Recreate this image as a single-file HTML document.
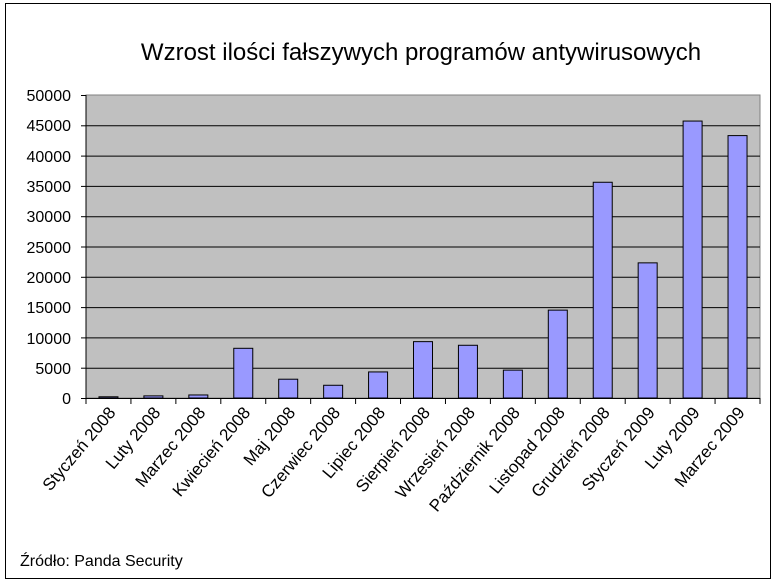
<!DOCTYPE html>
<html><head><meta charset="utf-8"><style>
body{margin:0;background:#fff;}
svg{display:block;font-family:"Liberation Sans",Arial,sans-serif;}
</style></head><body>
<svg width="776" height="583" viewBox="0 0 776 583">
<rect x="0" y="0" width="776" height="583" fill="#fff"/>
<rect x="5.5" y="3.5" width="765" height="575" fill="none" stroke="#000" stroke-width="1"/>
<text x="421" y="60" font-size="24" text-anchor="middle" fill="#000">Wzrost ilości fałszywych programów antywirusowych</text>
<rect x="86" y="95" width="674" height="303" fill="#c0c0c0" stroke="#808080" stroke-width="1"/>
<g stroke="#000" stroke-width="1">
<line x1="86" x2="760" y1="125.8" y2="125.8"/>
<line x1="86" x2="760" y1="156.1" y2="156.1"/>
<line x1="86" x2="760" y1="186.4" y2="186.4"/>
<line x1="86" x2="760" y1="216.7" y2="216.7"/>
<line x1="86" x2="760" y1="247" y2="247"/>
<line x1="86" x2="760" y1="277.3" y2="277.3"/>
<line x1="86" x2="760" y1="307.6" y2="307.6"/>
<line x1="86" x2="760" y1="337.9" y2="337.9"/>
<line x1="86" x2="760" y1="368.2" y2="368.2"/>
<line x1="86" x2="86" y1="95" y2="398"/>
<line x1="81" x2="760" y1="398.5" y2="398.5"/>
</g>
<g stroke="#000" stroke-width="1">
<line x1="81" x2="86" y1="95.5" y2="95.5"/><line x1="81" x2="86" y1="125.8" y2="125.8"/><line x1="81" x2="86" y1="156.1" y2="156.1"/><line x1="81" x2="86" y1="186.4" y2="186.4"/><line x1="81" x2="86" y1="216.7" y2="216.7"/><line x1="81" x2="86" y1="247" y2="247"/><line x1="81" x2="86" y1="277.3" y2="277.3"/><line x1="81" x2="86" y1="307.6" y2="307.6"/><line x1="81" x2="86" y1="337.9" y2="337.9"/><line x1="81" x2="86" y1="368.2" y2="368.2"/>
</g>
<g font-size="16" text-anchor="end" fill="#000">
<text x="71" y="101">50000</text><text x="71" y="131">45000</text><text x="71" y="162">40000</text><text x="71" y="192">35000</text><text x="71" y="222">30000</text><text x="71" y="253">25000</text><text x="71" y="283">20000</text><text x="71" y="313">15000</text><text x="71" y="344">10000</text><text x="71" y="374">5000</text><text x="71" y="404">0</text>
</g>
<g id="bars" fill="#9999ff" stroke="#000" stroke-width="1"></g>
<g id="ticks" stroke="#000" stroke-width="1"></g>
<g id="labels" font-size="17" text-anchor="end" fill="#000"></g>
<text x="20" y="566" font-size="16" fill="#000">Źródło: Panda Security</text>
<script>
var v=[200,350,500,8200,3100,2100,4300,9300,8700,4600,14500,35600,22300,45700,43300];
var n=["Styczeń 2008","Luty 2008","Marzec 2008","Kwiecień 2008","Maj 2008","Czerwiec 2008","Lipiec 2008","Sierpień 2008","Wrzesień 2008","Październik 2008","Listopad 2008","Grudzień 2008","Styczeń 2009","Luty 2009","Marzec 2009"];
var NS="http://www.w3.org/2000/svg",w=674/15;
function el(t,a,p){var e=document.createElementNS(NS,t);for(var k in a)e.setAttribute(k,a[k]);document.getElementById(p).appendChild(e);return e;}
for(var i=0;i<15;i++){
 var c=86+(i+0.5)*w,h=v[i]/50000*303;
 el("rect",{x:c-9.5,y:398-h,width:19,height:h},"bars");
 var tx=86+(i+1)*w;
 el("line",{x1:tx,x2:tx,y1:398,y2:404},"ticks");
 var lx=c+8,ly=413;
 var t=el("text",{x:lx,y:ly,transform:"rotate(-50 "+lx+" "+ly+")"},"labels");t.textContent=n[i];
}
el("line",{x1:86,x2:86,y1:398,y2:404},"ticks");
</script>
</svg>
</body></html>
